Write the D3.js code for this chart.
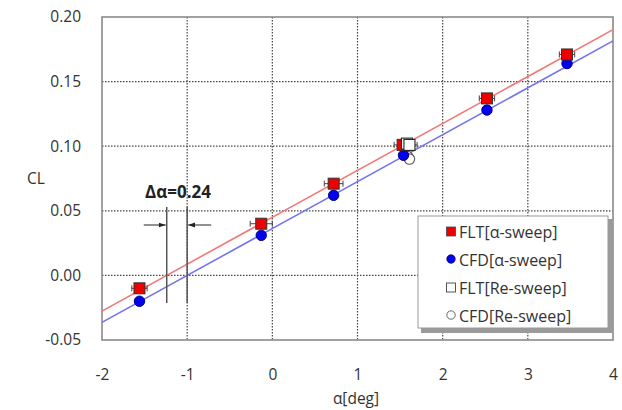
<!DOCTYPE html>
<html>
<head>
<meta charset="utf-8">
<script src="https://cdn.jsdelivr.net/npm/d3@7"></script>
<style>
  html, body { margin: 0; padding: 0; background: #fff; }
  svg { display: block; }
  text { font-family: "Open Sans", "Noto Sans", sans-serif; }
</style>
</head>
<body>
<svg id="chart" width="622" height="410"></svg>
<script>
// Lift coefficient vs angle of attack: flight test (FLT) and CFD
const xTicks = [-2, -1, 0, 1, 2, 3, 4];
const yTicks = [-0.05, 0.00, 0.05, 0.10, 0.15, 0.20];

// α-sweep points
const fltAlpha = [-1.56, -0.13, 0.72, 1.53, 2.52, 3.46];
const fltCL    = [-0.010, 0.040, 0.071, 0.101, 0.137, 0.171];
const fltErr   = [0.09, 0.13, 0.11, 0.10, 0.09, 0.09];
const cfdAlpha = [-1.56, -0.13, 0.72, 1.54, 2.52, 3.46];
const cfdCL    = [-0.020, 0.031, 0.062, 0.093, 0.128, 0.164];

// Re-sweep points
const fltReAlpha = [1.58, 1.61];
const fltReCL    = [0.102, 0.101];
const cfdReAlpha = [1.59, 1.61];
const cfdReCL    = [0.092, 0.090];

// Linear fits CL = slope * (α - α0)
const fitSlope = 0.0363;
const fltAlpha0 = -1.24;
const cfdAlpha0 = -1.00;
const deltaLabel = "Δα=0.24";

const legendLabels = ["FLT[α-sweep]", "CFD[α-sweep]", "FLT[Re-sweep]", "CFD[Re-sweep]"];

const svg = d3.select("#chart");
const pLeft = 102, pRight = 613, pTop = 17, pBottom = 340;
const labelFont = 15.5;

const x = d3.scaleLinear().domain([-2, 4]).range([pLeft, pRight]);
const y = d3.scaleLinear().domain([-0.05, 0.20]).range([pBottom, pTop]);

// hyphen-minus for negative tick labels
const hyphen = f => d => f(d).replace("\u2212", "-");

// grid
const grid = svg.append("g");
grid.selectAll(".gx").data(xTicks.slice(1, -1)).join("line")
  .attr("x1", d => x(d)).attr("x2", d => x(d))
  .attr("y1", pTop).attr("y2", pBottom)
  .attr("stroke", "#444").attr("stroke-width", 1.2).attr("stroke-dasharray", "1.5,1.5");
grid.selectAll(".gy").data(yTicks.slice(1, -1)).join("line")
  .attr("x1", pLeft).attr("x2", pRight)
  .attr("y1", d => y(d)).attr("y2", d => y(d))
  .attr("stroke", "#444").attr("stroke-width", 1.2).attr("stroke-dasharray", "1.5,1.5");

// plot frame
svg.append("rect").attr("x", pLeft).attr("y", pTop)
  .attr("width", pRight - pLeft).attr("height", pBottom - pTop)
  .attr("fill", "none").attr("stroke", "#8a8a8a").attr("stroke-width", 1.6);

// axes labels
const xAxis = d3.axisBottom(x).tickValues(xTicks).tickFormat(hyphen(d3.format("d"))).tickSize(0).tickPadding(29);
const yAxis = d3.axisLeft(y).tickValues(yTicks).tickFormat(hyphen(d3.format(".2f"))).tickSize(0).tickPadding(21);
const gx = svg.append("g").attr("transform", `translate(0,${pBottom})`).call(xAxis);
const gy = svg.append("g").attr("transform", `translate(${pLeft},0)`).call(yAxis);
[gx, gy].forEach(g => {
  g.select(".domain").remove();
  g.selectAll("text").attr("font-size", labelFont).attr("fill", "#333")
    .attr("font-family", "'Open Sans', sans-serif");
});

svg.append("text").attr("x", 356).attr("y", 404).attr("text-anchor", "middle")
  .attr("font-size", labelFont).attr("fill", "#333").text("α[deg]");
svg.append("text").attr("x", 36).attr("y", 184).attr("text-anchor", "middle")
  .attr("font-size", labelFont).attr("fill", "#333").text("CL");

// fit lines
svg.append("clipPath").attr("id", "plotClip")
  .append("rect").attr("x", pLeft).attr("y", pTop).attr("width", pRight - pLeft).attr("height", pBottom - pTop);
const line = d3.line().x(d => x(d[0])).y(d => y(d[1]));
const fitPts = a0 => [-2, 4].map(a => [a, fitSlope * (a - a0)]);
svg.append("path").attr("d", line(fitPts(fltAlpha0))).attr("clip-path", "url(#plotClip)")
  .attr("fill", "none").attr("stroke", "#f27878").attr("stroke-width", 1.6);
svg.append("path").attr("d", line(fitPts(cfdAlpha0))).attr("clip-path", "url(#plotClip)")
  .attr("fill", "none").attr("stroke", "#7474ee").attr("stroke-width", 1.6);

// Δα annotation
const ann = svg.append("g");
const yTopAnn = 207, yBotAnn = 303, yArrow = 225;
[fltAlpha0, cfdAlpha0].forEach(a => {
  ann.append("line").attr("x1", x(a)).attr("x2", x(a))
    .attr("y1", yTopAnn).attr("y2", yBotAnn).attr("stroke", "#555").attr("stroke-width", 1.5);
});
svg.append("defs").append("marker").attr("id", "arrowHead")
  .attr("viewBox", "0 0 10 10").attr("refX", 10).attr("refY", 5)
  .attr("markerWidth", 7).attr("markerHeight", 7).attr("orient", "auto")
  .append("path").attr("d", "M0,1.5 L10,5 L0,8.5 Z").attr("fill", "#222");
ann.append("line").attr("x1", x(fltAlpha0) - 23).attr("x2", x(fltAlpha0) - 1)
  .attr("y1", yArrow).attr("y2", yArrow).attr("stroke", "#222").attr("stroke-width", 1)
  .attr("marker-end", "url(#arrowHead)");
ann.append("line").attr("x1", x(cfdAlpha0) + 24).attr("x2", x(cfdAlpha0) + 1)
  .attr("y1", yArrow).attr("y2", yArrow).attr("stroke", "#222").attr("stroke-width", 1)
  .attr("marker-end", "url(#arrowHead)");
ann.append("text").attr("x", 178).attr("y", 198).attr("text-anchor", "middle")
  .attr("font-family", "'Liberation Sans', Arial, sans-serif")
  .attr("font-size", 17).attr("font-weight", "bold").attr("fill", "#222").text(deltaLabel);

// error bars on FLT points
const errG = svg.append("g");
function errorBar(a, c, e) {
  const yy = y(c);
  errG.append("line").attr("x1", x(a - e)).attr("x2", x(a + e)).attr("y1", yy).attr("y2", yy)
    .attr("stroke", "#444").attr("stroke-width", 1);
  [a - e, a + e].forEach(v => errG.append("line").attr("x1", x(v)).attr("x2", x(v))
    .attr("y1", yy - 3).attr("y2", yy + 3).attr("stroke", "#444").attr("stroke-width", 1));
}
fltAlpha.forEach((a, i) => errorBar(a, fltCL[i], fltErr[i]));
fltReAlpha.forEach((a, i) => errorBar(a, fltReCL[i], 0.09));

// markers
const mk = svg.append("g");
const sq = 11, rad = 5.2;
cfdReAlpha.forEach((a, i) => mk.append("circle").attr("cx", x(a)).attr("cy", y(cfdReCL[i])).attr("r", rad)
  .attr("fill", "#fff").attr("stroke", "#555").attr("stroke-width", 1.1));
cfdAlpha.forEach((a, i) => mk.append("circle").attr("cx", x(a)).attr("cy", y(cfdCL[i])).attr("r", rad)
  .attr("fill", "#0000ee").attr("stroke", "#00008b").attr("stroke-width", 1));
fltAlpha.forEach((a, i) => mk.append("rect").attr("x", x(a) - sq / 2).attr("y", y(fltCL[i]) - sq / 2)
  .attr("width", sq).attr("height", sq)
  .attr("fill", "#ee0000").attr("stroke", "#333").attr("stroke-width", 1));
fltReAlpha.forEach((a, i) => mk.append("rect").attr("x", x(a) - sq / 2).attr("y", y(fltReCL[i]) - sq / 2)
  .attr("width", sq).attr("height", sq)
  .attr("fill", "#fff").attr("stroke", "#222").attr("stroke-width", 1.1));

// legend
const lg = svg.append("g").attr("transform", "translate(418,216)");
lg.append("rect").attr("x", 3).attr("y", 3).attr("width", 192).attr("height", 114).attr("fill", "#9a9a9a");
lg.append("rect").attr("x", 0).attr("y", 0).attr("width", 190).attr("height", 112)
  .attr("fill", "#fff").attr("stroke", "#999").attr("stroke-width", 1);
const rowY = [16, 44, 72, 100];
const lmx = 33;
lg.append("rect").attr("x", lmx - 4.5).attr("y", rowY[0] - 5).attr("width", 9).attr("height", 9)
  .attr("fill", "#ee0000").attr("stroke", "#444").attr("stroke-width", 0.8);
lg.append("circle").attr("cx", lmx).attr("cy", rowY[1] - 1).attr("r", 4.2)
  .attr("fill", "#0000ee").attr("stroke", "#00008b").attr("stroke-width", 0.8);
lg.append("rect").attr("x", lmx - 4.5).attr("y", rowY[2] - 5).attr("width", 9).attr("height", 9)
  .attr("fill", "#fff").attr("stroke", "#444").attr("stroke-width", 0.9);
lg.append("circle").attr("cx", lmx).attr("cy", rowY[3] - 1).attr("r", 4.2)
  .attr("fill", "#fff").attr("stroke", "#555").attr("stroke-width", 0.9);
legendLabels.forEach((t, i) => lg.append("text").attr("x", 41).attr("y", rowY[i] + 5.5)
  .attr("font-size", 16).attr("fill", "#333").text(t));
</script>
</body>
</html>
